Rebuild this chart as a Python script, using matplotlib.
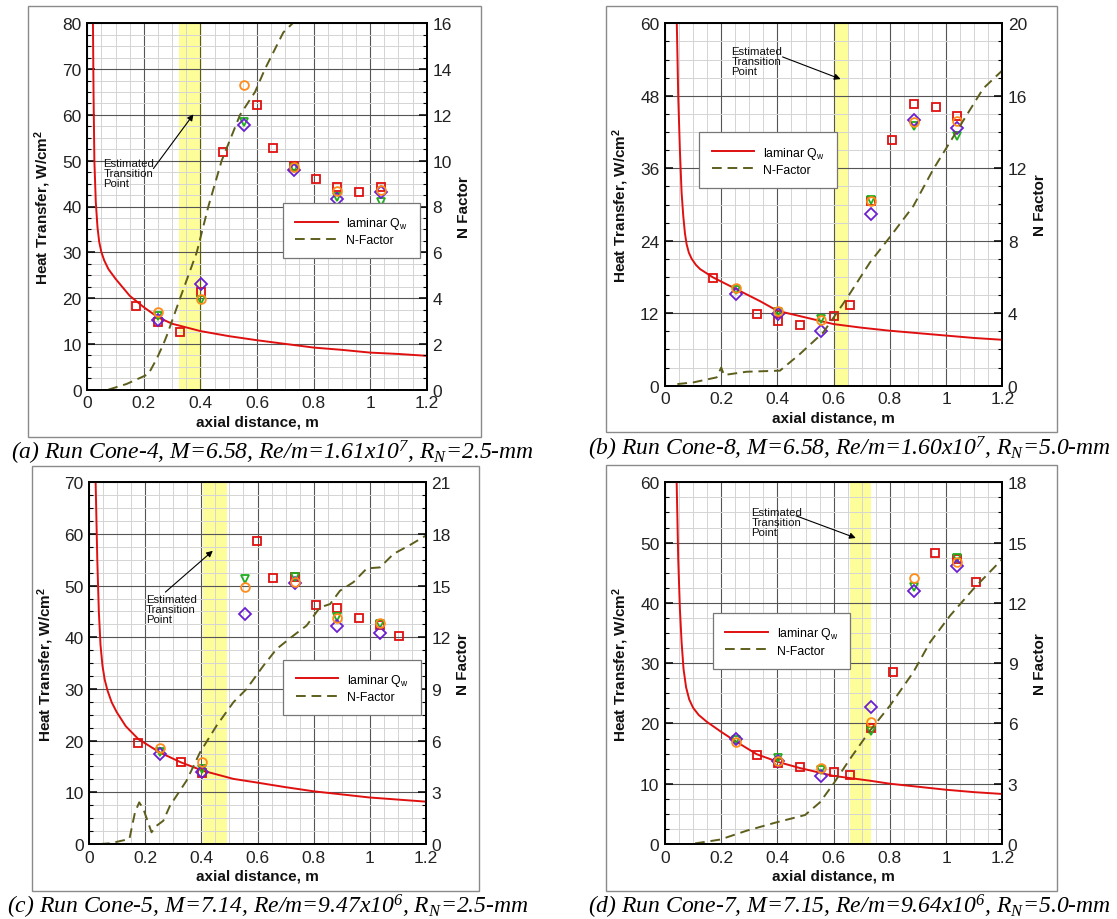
import numpy as np
import matplotlib
matplotlib.use('Agg')
import matplotlib.pyplot as plt
from matplotlib.patches import Rectangle
from matplotlib.lines import Line2D
from matplotlib.ticker import MultipleLocator, FuncFormatter

plt.rcParams['font.family'] = ['Liberation Sans', 'DejaVu Sans']

W, H = 1117, 920

RED = '#e01010'
ORANGE = '#ff8c1a'
GREEN = '#1fae1f'
PURPLE = '#6a1fd0'
OLIVE = '#5e5e1c'
BAND = '#fdfd9a'

# ---------------- (a) Run Cone-4 ----------------
a_lam_x = [0.020, 0.022, 0.025, 0.030, 0.036, 0.042, 0.050, 0.060, 0.075, 0.10, 0.15, 0.20, 0.25,
           0.30, 0.40, 0.50, 0.60, 0.70, 0.80, 0.90, 1.00, 1.10, 1.20]
a_lam_q = [80, 65, 50, 41, 35.5, 32.3, 30, 28.2, 26.3, 24.2, 20.5, 18.0, 15.8,
           14.4, 12.8, 11.7, 10.8, 10.0, 9.2, 8.7, 8.1, 7.8, 7.4]
a_nf_x = [0.074, 0.139, 0.216, 0.245, 0.269, 0.281, 0.328, 0.387, 0.428, 0.475, 0.540,
          0.593, 0.628, 0.693, 0.726]
a_nf_n = [0.0, 0.25, 0.68, 1.34, 1.99, 2.36, 3.99, 6.0, 8.0, 10.0, 12.0,
          13.0, 14.0, 15.6, 16.0]
a_sq_x = [0.172, 0.250, 0.328, 0.402, 0.479, 0.599, 0.655, 0.732, 0.809, 0.884, 0.961, 1.037]
a_sq_q = [18.3, 14.8, 12.7, 21.3, 51.9, 62.1, 52.8, 48.9, 46.1, 44.3, 43.2, 44.2]
a_ci_x = [0.251, 0.402, 0.555, 0.732, 0.884, 1.037]
a_ci_q = [16.9, 19.9, 66.5, 48.7, 43.3, 43.7]
a_tri_x = [0.251, 0.402, 0.555, 0.732, 0.884, 1.037]
a_tri_q = [16.2, 19.6, 58.5, 48.4, 42.0, 40.9]
a_dia_x = [0.251, 0.402, 0.555, 0.732, 0.884, 1.037]
a_dia_q = [15.2, 23.1, 57.9, 48.0, 41.6, 43.2]

# ---------------- (b) Run Cone-8 ----------------
b_lam_x = [0.042, 0.047, 0.053, 0.059, 0.065, 0.071, 0.077, 0.085, 0.095, 0.11, 0.125, 0.172,
           0.253, 0.338, 0.40, 0.50, 0.60, 0.70, 0.80, 0.90, 1.00, 1.10, 1.20]
b_lam_q = [60, 48.0, 39.0, 32.0, 28.1, 25.2, 23.4, 22.0, 21.0, 20.0, 19.3, 17.9,
           16.0, 14.0, 12.4, 11.3, 10.2, 9.6, 9.1, 8.7, 8.3, 7.9, 7.6]
b_nf_x = [0.044, 0.10, 0.184, 0.200, 0.210, 0.29, 0.409, 0.48, 0.563, 0.646, 0.729, 0.80,
          0.883, 0.955, 1.05, 1.132, 1.20]
b_nf_n = [0.09, 0.18, 0.46, 1.0, 0.59, 0.77, 0.83, 1.75, 2.94, 4.8, 6.8, 8.2,
          9.9, 11.96, 14.35, 16.4, 17.4]
b_sq_x = [0.172, 0.328, 0.402, 0.479, 0.600, 0.657, 0.732, 0.808, 0.886, 0.963, 1.039]
b_sq_q = [17.9, 11.8, 10.65, 10.0, 11.5, 13.4, 30.5, 40.6, 46.6, 46.2, 44.6]
b_ci_x = [0.251, 0.402, 0.555, 0.732, 0.886, 1.039]
b_ci_q = [16.2, 12.4, 10.9, 30.6, 43.7, 43.9]
b_tri_x = [0.251, 0.402, 0.555, 0.732, 0.886, 1.039]
b_tri_q = [15.9, 12.2, 11.1, 30.7, 43.0, 41.3]
b_dia_x = [0.251, 0.402, 0.555, 0.732, 0.886, 1.039]
b_dia_q = [15.1, 11.9, 9.05, 28.5, 44.0, 42.6]

# ---------------- (c) Run Cone-5 ----------------
c_lam_x = [0.0226, 0.0285, 0.034, 0.040, 0.047, 0.055, 0.065, 0.080, 0.098, 0.13, 0.175, 0.252,
           0.327, 0.404, 0.514, 0.597, 0.70, 0.80, 0.90, 1.00, 1.10, 1.20]
c_lam_q = [70, 55, 45, 38.5, 34.5, 31.8, 29.7, 27.4, 25.5, 22.8, 20.3, 17.7,
           15.8, 14.2, 12.6, 11.9, 11.0, 10.2, 9.6, 9.0, 8.6, 8.2]
c_nf_x = [0.038, 0.074, 0.143, 0.163, 0.178, 0.193, 0.222, 0.240, 0.264, 0.288, 0.347, 0.395,
          0.454, 0.514, 0.561, 0.621, 0.668, 0.728, 0.775, 0.823, 0.859, 0.894, 0.942, 0.990,
          1.037, 1.085, 1.144, 1.200]
c_nf_n = [0.0, 0.04, 0.29, 1.84, 2.42, 2.03, 0.68, 1.06, 1.35, 2.23, 3.68, 5.32,
          6.87, 8.23, 9.0, 10.35, 11.32, 12.1, 12.68, 13.74, 13.93, 14.7, 15.2, 16.0,
          16.06, 16.84, 17.36, 17.9]
c_sq_x = [0.175, 0.327, 0.402, 0.600, 0.657, 0.732, 0.809, 0.885, 0.961, 1.037, 1.105]
c_sq_q = [19.5, 15.8, 13.7, 58.6, 51.4, 51.6, 46.3, 45.6, 43.7, 42.3, 40.3]
c_ci_x = [0.251, 0.402, 0.555, 0.732, 0.885, 1.037]
c_ci_q = [18.5, 15.8, 49.7, 50.8, 43.7, 42.8]
c_tri_x = [0.251, 0.402, 0.555, 0.732, 0.885, 1.037]
c_tri_q = [17.9, 14.5, 51.3, 51.6, 43.9, 42.6]
c_dia_x = [0.251, 0.402, 0.555, 0.732, 0.885, 1.037]
c_dia_q = [17.4, 13.9, 44.6, 50.5, 42.1, 40.8]

# ---------------- (d) Run Cone-7 ----------------
d_lam_x = [0.0415, 0.047, 0.053, 0.059, 0.066, 0.075, 0.086, 0.10, 0.12, 0.148, 0.20, 0.249,
           0.326, 0.403, 0.48, 0.599, 0.729, 0.80, 0.90, 1.00, 1.10, 1.20]
d_lam_q = [60, 47.3, 39.0, 33.5, 29.0, 26.0, 24.0, 22.6, 21.4, 20.3, 18.6, 17.1,
           14.9, 13.6, 12.6, 11.3, 10.5, 10.0, 9.5, 9.0, 8.6, 8.3]
d_nf_x = [0.107, 0.196, 0.290, 0.397, 0.498, 0.551, 0.599, 0.658, 0.729, 0.80, 0.883,
          0.943, 1.014, 1.097, 1.20]
d_nf_n = [0.03, 0.22, 0.66, 1.08, 1.44, 2.07, 2.99, 4.23, 5.64, 6.88, 8.54,
          10.04, 11.36, 12.69, 14.18]
d_sq_x = [0.326, 0.403, 0.480, 0.601, 0.658, 0.732, 0.810, 0.962, 1.038, 1.108]
d_sq_q = [14.8, 13.4, 12.7, 11.9, 11.45, 19.2, 28.5, 48.3, 47.3, 43.5]
d_ci_x = [0.251, 0.403, 0.555, 0.732, 0.885, 1.038]
d_ci_q = [16.9, 13.8, 12.6, 20.3, 44.1, 46.8]
d_tri_x = [0.251, 0.403, 0.555, 0.732, 0.885, 1.038]
d_tri_q = [17.2, 14.2, 12.2, 18.8, 42.6, 47.4]
d_dia_x = [0.251, 0.403, 0.555, 0.732, 0.885, 1.038]
d_dia_q = [17.5, 13.7, 11.3, 22.7, 41.9, 46.1]

captions = [
    r'(a) Run Cone-4, M=6.58, Re/m=1.61x10$\mathdefault{^7}$, R$\mathdefault{_N}$=2.5-mm',
    r'(b) Run Cone-8, M=6.58, Re/m=1.60x10$\mathdefault{^7}$, R$\mathdefault{_N}$=5.0-mm',
    r'(c) Run Cone-5, M=7.14, Re/m=9.47x10$\mathdefault{^6}$, R$\mathdefault{_N}$=2.5-mm',
    r'(d) Run Cone-7, M=7.15, Re/m=9.64x10$\mathdefault{^6}$, R$\mathdefault{_N}$=5.0-mm',
]

panels = [
    dict(lam=(a_lam_x, a_lam_q), nf=(a_nf_x, a_nf_n), sq=(a_sq_x, a_sq_q), ci=(a_ci_x, a_ci_q),
         tri=(a_tri_x, a_tri_q), dia=(a_dia_x, a_dia_q), qmax=80, qstep=10, nmax=16, nstep=2,
         band=(0.325, 0.405), rect=(87.3, 24.3, 426.7, 390.7), box=(28.3, 7.3, 481, 437.7),
         cap=(272, 453), leg=(0.576, 0.510), txt=(0.057, 50.5), tail=(0.228, 47.8), tip=(0.381, 60.6)),
    dict(lam=(b_lam_x, b_lam_q), nf=(b_nf_x, b_nf_n), sq=(b_sq_x, b_sq_q), ci=(b_ci_x, b_ci_q),
         tri=(b_tri_x, b_tri_q), dia=(b_dia_x, b_dia_q), qmax=60, qstep=12, nmax=20, nstep=4,
         band=(0.601, 0.656), rect=(665, 24.3, 1002.3, 386.7), box=(606, 7.3, 1056.7, 433.3),
         cap=(849, 449), leg=(0.102, 0.699), txt=(0.237, 56.3), tail=(0.409, 54.6), tip=(0.634, 50.6)),
    dict(lam=(c_lam_x, c_lam_q), nf=(c_nf_x, c_nf_n), sq=(c_sq_x, c_sq_q), ci=(c_ci_x, c_ci_q),
         tri=(c_tri_x, c_tri_q), dia=(c_dia_x, c_dia_q), qmax=70, qstep=10, nmax=21, nstep=3,
         band=(0.404, 0.490), rect=(89.3, 483.3, 425.7, 845), box=(31.7, 466.7, 479, 892.3),
         cap=(268, 907), leg=(0.577, 0.510), txt=(0.202, 48.3), tail=(0.264, 48.4), tip=(0.448, 57.1)),
    dict(lam=(d_lam_x, d_lam_q), nf=(d_nf_x, d_nf_n), sq=(d_sq_x, d_sq_q), ci=(d_ci_x, d_ci_q),
         tri=(d_tri_x, d_tri_q), dia=(d_dia_x, d_dia_q), qmax=60, qstep=10, nmax=18, nstep=3,
         band=(0.658, 0.732), rect=(665, 483.3, 1002.3, 845), box=(606, 466, 1056.7, 892),
         cap=(849, 907), leg=(0.143, 0.638), txt=(0.308, 55.9), tail=(0.457, 54.6), tip=(0.688, 50.6)),
]

fig = plt.figure(figsize=(W / 100, H / 100), dpi=100)

mk = dict(linestyle='none', markerfacecolor='none', markersize=6.3, markeredgewidth=1.3, zorder=4)

for p, cap in zip(panels, captions):
    l, t, r, b = p['rect']
    ax = fig.add_axes([l / W, 1 - b / H, (r - l) / W, (b - t) / H])
    ax2 = ax.twinx()
    ax.set_axisbelow(True)

    ax.axvspan(*p['band'], color=BAND, lw=0, zorder=0.2)

    ax.plot(*p['lam'], color=RED, lw=1.4, zorder=3)
    ax.plot(*p['sq'], marker='s', markeredgecolor=RED, **mk)
    ax.plot(*p['tri'], marker='v', markeredgecolor=GREEN, **mk)
    ax.plot(*p['dia'], marker='D', markeredgecolor=PURPLE, **{**mk, 'markersize': 5.8})
    ax.plot(*p['ci'], marker='o', markeredgecolor=ORANGE, **mk)
    ax2.plot(*p['nf'], color=OLIVE, lw=1.4, ls=(0, (5, 3)))

    ax.set_xlim(0, 1.2)
    ax.set_ylim(0, p['qmax'])
    ax2.set_ylim(0, p['nmax'])
    ax.xaxis.set_major_locator(MultipleLocator(0.2))
    ax.xaxis.set_minor_locator(MultipleLocator(0.05))
    ax.xaxis.set_major_formatter(FuncFormatter(lambda v, pos: '%g' % round(v, 2)))
    ax.yaxis.set_major_locator(MultipleLocator(p['qstep']))
    ax.yaxis.set_minor_locator(MultipleLocator(p['qstep'] / 4))
    ax2.yaxis.set_major_locator(MultipleLocator(p['nstep']))
    ax2.yaxis.set_minor_locator(MultipleLocator(p['nstep'] / 4))

    ax.grid(True, which='major', color='#555555', lw=0.8)
    ax.grid(True, which='minor', color='#d4d4d4', lw=0.7)

    ax.tick_params(axis='x', which='both', length=0, labelsize=12.5, pad=4, labelcolor='#222222')
    ax.tick_params(axis='y', which='major', direction='in', length=6, width=1.1,
                   labelsize=12.5, pad=4, labelcolor='#222222')
    ax.tick_params(axis='y', which='minor', direction='in', length=3, width=0.8)
    ax2.tick_params(axis='y', which='major', direction='in', length=6, width=1.1,
                    labelsize=12.5, pad=4, labelcolor='#222222')
    ax2.tick_params(axis='y', which='minor', direction='in', length=3, width=0.8)
    for a in (ax, ax2):
        for s in a.spines.values():
            s.set_linewidth(1.3)

    ax.set_xlabel('axial distance, m', fontsize=11, fontweight='bold', color='#111111')
    ax.set_ylabel(r'Heat Transfer, W/cm$\mathdefault{^2}$', fontsize=11, fontweight='bold',
                  color='#111111')
    ax2.set_ylabel('N Factor', fontsize=11, fontweight='bold', color='#111111')
    ax.xaxis.set_label_coords(0.5, -0.068)
    ax.yaxis.set_label_coords(-0.10, 0.5)
    ax2.yaxis.set_label_coords(1.09, 0.5)

    k = p['nmax'] / p['qmax']
    ax2.text(p['txt'][0], p['txt'][1] * k, 'Estimated\nTransition\nPoint',
             fontsize=8.2, va='top', ha='left', linespacing=1.0, color='#111111', zorder=6)
    ax2.annotate('', xy=(p['tip'][0], p['tip'][1] * k),
                 xytext=(p['tail'][0], p['tail'][1] * k),
                 arrowprops=dict(arrowstyle='-|>', color='black', lw=0.8, mutation_scale=9))

    leg = ax2.legend([Line2D([], [], color=RED, lw=1.4),
                      Line2D([], [], color=OLIVE, lw=1.4, ls=(0, (5, 3)))],
                     [r'laminar Q$\mathdefault{_w}$', 'N-Factor'],
                     loc='upper left', bbox_to_anchor=p['leg'], fontsize=8.8,
                     handlelength=3.5, handletextpad=0.7, borderpad=1.0, labelspacing=0.25,
                     fancybox=False, framealpha=1, edgecolor='#777777', borderaxespad=0)
    leg.get_frame().set_linewidth(0.9)

    bl, bt, br, bb = p['box']
    fig.add_artist(Rectangle((bl / W, 1 - bb / H), (br - bl) / W, (bb - bt) / H,
                             transform=fig.transFigure, fill=False, edgecolor='#8a8a8a', lw=1))
    fig.text(p['cap'][0] / W, 1 - p['cap'][1] / H, cap, fontsize=17, style='italic',
             family=['Liberation Serif', 'DejaVu Serif'], ha='center', va='center')

fig.savefig('out.png', dpi=100)
